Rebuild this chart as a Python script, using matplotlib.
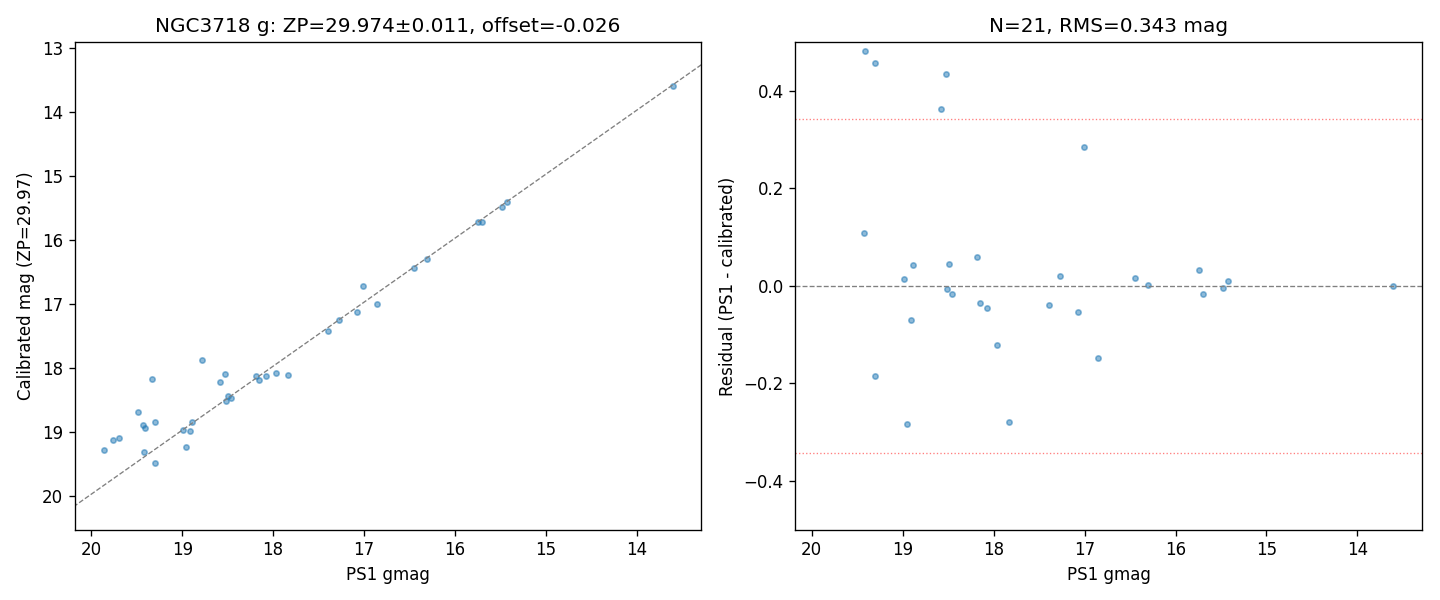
import numpy as np
import matplotlib
matplotlib.use("Agg")
import matplotlib.pyplot as plt

# PS1 g magnitudes of the matched stars
ps1 = np.array([
    19.414, 19.304, 18.524, 18.579, 17.008, 19.425,
    18.183, 18.887, 18.491, 18.986, 17.271, 18.513, 18.458, 18.151,
    18.074, 17.392, 17.074, 18.909, 17.964, 16.854, 19.304, 18.953,
    17.832, 16.451, 16.304, 15.747, 15.700, 15.480, 15.425, 13.604,
    19.429, 19.337, 19.700, 19.766, 19.865, 19.483, 18.777,
])
# residual PS1 - calibrated
resid = np.array([
    0.481, 0.457, 0.434, 0.362, 0.285, 0.108,
    0.059, 0.042, 0.044, 0.014, 0.020, -0.007, -0.017, -0.036,
    -0.046, -0.040, -0.054, -0.070, -0.122, -0.148, -0.185, -0.284,
    -0.280, 0.016, 0.001, 0.032, -0.017, -0.005, 0.010, -0.001,
    0.543, 1.168, 0.611, 0.646, 0.589, 0.799, 0.905,
])
cal = ps1 - resid

zp = 29.974
zp_err = 0.011
offset = -0.026
n_used = 21
rms = 0.343

fig, (ax1, ax2) = plt.subplots(1, 2, figsize=(12, 5), dpi=120)
fig.subplots_adjust(left=0.052, right=0.9875, bottom=0.117, top=0.93, wspace=0.15)

# left: calibrated vs PS1
ax1.scatter(ps1, cal, s=10, alpha=0.5, color="C0")
ax1.axline((15, 15 + offset), slope=1, color="gray", ls="--", lw=0.8)
ax1.set_xlim(20.18, 13.29)
ax1.set_ylim(20.53, 12.91)
ax1.set_xlabel("PS1 gmag")
ax1.set_ylabel(f"Calibrated mag (ZP={zp:.2f})")
ax1.set_title(f"NGC3718 g: ZP={zp:.3f}\u00b1{zp_err:.3f}, offset={offset:.3f}")

# right: residuals
ax2.scatter(ps1, resid, s=10, alpha=0.5, color="C0")
ax2.axhline(0, color="gray", ls="--", lw=0.8)
ax2.axhline(rms, color="red", ls=":", lw=0.8, alpha=0.5)
ax2.axhline(-rms, color="red", ls=":", lw=0.8, alpha=0.5)
ax2.set_xlim(20.18, 13.29)
ax2.set_ylim(-0.5, 0.5)
ax2.set_xlabel("PS1 gmag")
ax2.set_ylabel("Residual (PS1 - calibrated)")
ax2.set_title(f"N={n_used}, RMS={rms:.3f} mag")

fig.savefig("out.png", dpi=120)
